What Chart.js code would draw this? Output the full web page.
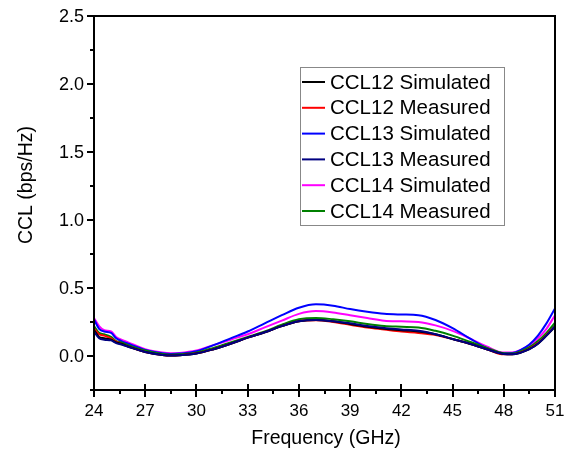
<!DOCTYPE html>
<html>
<head>
<meta charset="utf-8">
<script src="https://cdn.jsdelivr.net/npm/chart.js"></script>
<style>
  html, body { margin: 0; padding: 0; background: #fff; }
  #wrap { width: 568px; height: 459px; }
</style>
</head>
<body>
<div id="wrap"><canvas id="myChart1" width="568" height="459"></canvas></div>
<script>
// frequency points (GHz)
var freq = [24, 24.3, 24.6, 25, 25.3, 25.6, 26, 27, 28, 28.5, 29, 30, 31, 32, 33, 34, 35, 36, 37, 38, 39, 40, 41, 42, 43, 44, 45, 46, 47, 48, 48.5, 49, 49.5, 50, 50.5, 51];

var ccl12Sim  = [0.19, 0.14, 0.13, 0.12, 0.10, 0.09, 0.07, 0.03, 0.008, 0.003, 0.005, 0.018, 0.05, 0.09, 0.135, 0.175, 0.22, 0.255, 0.265, 0.255, 0.235, 0.215, 0.20, 0.19, 0.18, 0.16, 0.125, 0.09, 0.05, 0.015, 0.012, 0.025, 0.05, 0.09, 0.15, 0.215];
var ccl12Meas = [0.20, 0.16, 0.15, 0.13, 0.105, 0.09, 0.07, 0.03, 0.008, 0.004, 0.006, 0.02, 0.05, 0.09, 0.135, 0.175, 0.22, 0.255, 0.262, 0.25, 0.23, 0.21, 0.195, 0.18, 0.17, 0.155, 0.125, 0.09, 0.05, 0.012, 0.012, 0.028, 0.055, 0.095, 0.155, 0.22];
var ccl13Sim  = [0.27, 0.20, 0.18, 0.17, 0.13, 0.11, 0.09, 0.045, 0.02, 0.015, 0.018, 0.035, 0.08, 0.13, 0.18, 0.24, 0.30, 0.355, 0.38, 0.37, 0.345, 0.325, 0.31, 0.305, 0.30, 0.265, 0.205, 0.13, 0.06, 0.02, 0.022, 0.045, 0.085, 0.15, 0.24, 0.35];
var ccl13Meas = [0.18, 0.13, 0.12, 0.115, 0.095, 0.085, 0.068, 0.03, 0.008, 0.003, 0.005, 0.018, 0.05, 0.09, 0.135, 0.175, 0.22, 0.255, 0.265, 0.255, 0.24, 0.22, 0.205, 0.195, 0.185, 0.16, 0.125, 0.09, 0.05, 0.015, 0.012, 0.025, 0.05, 0.09, 0.15, 0.22];
var ccl14Sim  = [0.28, 0.22, 0.19, 0.18, 0.14, 0.12, 0.10, 0.05, 0.025, 0.02, 0.022, 0.04, 0.08, 0.12, 0.16, 0.21, 0.26, 0.31, 0.33, 0.32, 0.30, 0.28, 0.26, 0.255, 0.25, 0.225, 0.185, 0.13, 0.07, 0.025, 0.025, 0.045, 0.08, 0.13, 0.20, 0.30];
var ccl14Meas = [0.22, 0.17, 0.16, 0.14, 0.11, 0.10, 0.08, 0.04, 0.015, 0.01, 0.012, 0.025, 0.06, 0.10, 0.14, 0.18, 0.23, 0.27, 0.28, 0.27, 0.255, 0.235, 0.22, 0.215, 0.21, 0.185, 0.15, 0.105, 0.06, 0.02, 0.018, 0.035, 0.065, 0.11, 0.17, 0.245];

var xTicks = [24, 27, 30, 33, 36, 39, 42, 45, 48, 51];
var yTicks = [0.0, 0.5, 1.0, 1.5, 2.0, 2.5];

var labList1 = ['CCL12 Simulated', 'CCL12 Measured', 'CCL13 Simulated', 'CCL13 Measured', 'CCL14 Simulated', 'CCL14 Measured'];
var colorList = ['#000000', '#ff0000', '#0000ff', '#000080', '#ff00ff', '#008000'];
var seriesList = [ccl12Sim, ccl12Meas, ccl13Sim, ccl13Meas, ccl14Sim, ccl14Meas];

function toPoints(arr) {
  var pts = [];
  for (var i = 0; i < arr.length; i++) pts.push({ x: freq[i], y: arr[i] });
  return pts;
}

var datasets = [];
for (var i = 0; i < seriesList.length; i++) {
  datasets.push({
    label: labList1[i],
    data: toPoints(seriesList[i]),
    borderColor: colorList[i],
    backgroundColor: colorList[i],
    borderWidth: 2,
    pointRadius: 0,
    cubicInterpolationMode: 'monotone'
  });
}
// draw order like the original (navy on top of black)
var order = [4, 2, 5, 1, 0, 3];
datasets.forEach(function (d, i) { d.order = -order.indexOf(i); });

var FONT = '"Liberation Sans", Arial, sans-serif';

// axes frame, ticks, labels and legend box
var framePlugin = {
  id: 'framePlugin',
  afterDraw: function (chart) {
    var ctx = chart.ctx, a = chart.chartArea;
    var xs = chart.scales.x, ys = chart.scales.y;
    ctx.save();
    ctx.strokeStyle = '#000';
    ctx.lineWidth = 2;
    ctx.beginPath();
    ctx.moveTo(a.left, a.bottom); ctx.lineTo(a.left, a.top);
    ctx.lineTo(a.right, a.top); ctx.lineTo(a.right, a.bottom);
    ctx.lineTo(a.left, a.bottom);
    ctx.stroke();

    // y ticks
    for (var v = -0.25; v <= 2.5001; v += 0.25) {
      var py = Math.round(ys.getPixelForValue(v));
      var major = Math.abs(v * 2 - Math.round(v * 2)) < 1e-6;
      ctx.beginPath();
      ctx.moveTo(a.left - (major ? 7 : 4), py);
      ctx.lineTo(a.left, py);
      ctx.stroke();
    }
    // x ticks
    for (var f = 24; f <= 51.001; f += 1.5) {
      var px = Math.round(xs.getPixelForValue(f));
      var isMajor = Math.abs((f - 24) % 3) < 1e-6;
      ctx.beginPath();
      ctx.moveTo(px, a.bottom + (isMajor ? 7 : 4));
      ctx.lineTo(px, a.bottom - (isMajor ? 6 : 0));
      ctx.stroke();
    }

    ctx.fillStyle = '#000';
    ctx.font = '18px ' + FONT;
    ctx.textAlign = 'right';
    ctx.textBaseline = 'middle';
    yTicks.forEach(function (t) {
      ctx.fillText(t.toFixed(1), a.left - 10, ys.getPixelForValue(t) + 1);
    });
    ctx.font = '17px ' + FONT;
    ctx.textAlign = 'center';
    ctx.textBaseline = 'top';
    xTicks.forEach(function (t) {
      ctx.fillText(String(t), xs.getPixelForValue(t), a.bottom + 13);
    });

    ctx.font = '19.5px ' + FONT;
    ctx.textBaseline = 'middle';
    ctx.fillText('Frequency (GHz)', 326, 439);
    ctx.save();
    ctx.translate(27, 185);
    ctx.rotate(-Math.PI / 2);
    ctx.fillText('CCL (bps/Hz)', 0, 0);
    ctx.restore();

    // legend
    var bx = 300, by = 67, bw = 204, bh = 158;
    ctx.fillStyle = '#fff';
    ctx.fillRect(bx, by, bw, bh);
    ctx.strokeStyle = '#888';
    ctx.lineWidth = 1;
    ctx.strokeRect(bx + 0.5, by + 0.5, bw, bh);
    ctx.font = '20.5px ' + FONT;
    ctx.textAlign = 'left';
    ctx.textBaseline = 'middle';
    for (var k = 0; k < labList1.length; k++) {
      var ly = by + 15 + k * 25.8;
      ctx.strokeStyle = colorList[k];
      ctx.lineWidth = 2;
      ctx.beginPath();
      ctx.moveTo(bx + 2, ly); ctx.lineTo(bx + 25, ly);
      ctx.stroke();
      ctx.fillStyle = '#000';
      ctx.fillText(labList1[k], bx + 30, ly + 1);
    }
    ctx.restore();
  }
};

var ctx1 = document.getElementById('myChart1').getContext('2d');
var chart1 = new Chart(ctx1, {
  type: 'line',
  data: { datasets: datasets },
  options: {
    responsive: false,
    animation: false,
    layout: { padding: { left: 0, right: 13, top: 16, bottom: 0 } },
    plugins: { legend: { display: false }, tooltip: { enabled: false } },
    scales: {
      x: {
        type: 'linear', min: 24, max: 51,
        grid: { display: false, drawTicks: false },
        border: { display: false },
        ticks: { display: false },
        afterFit: function (s) { s.height = 69; }
      },
      y: {
        min: -0.25, max: 2.5,
        grid: { display: false, drawTicks: false },
        border: { display: false },
        ticks: { display: false },
        afterFit: function (s) { s.width = 94; }
      }
    }
  },
  plugins: [framePlugin]
});
</script>
</body>
</html>
